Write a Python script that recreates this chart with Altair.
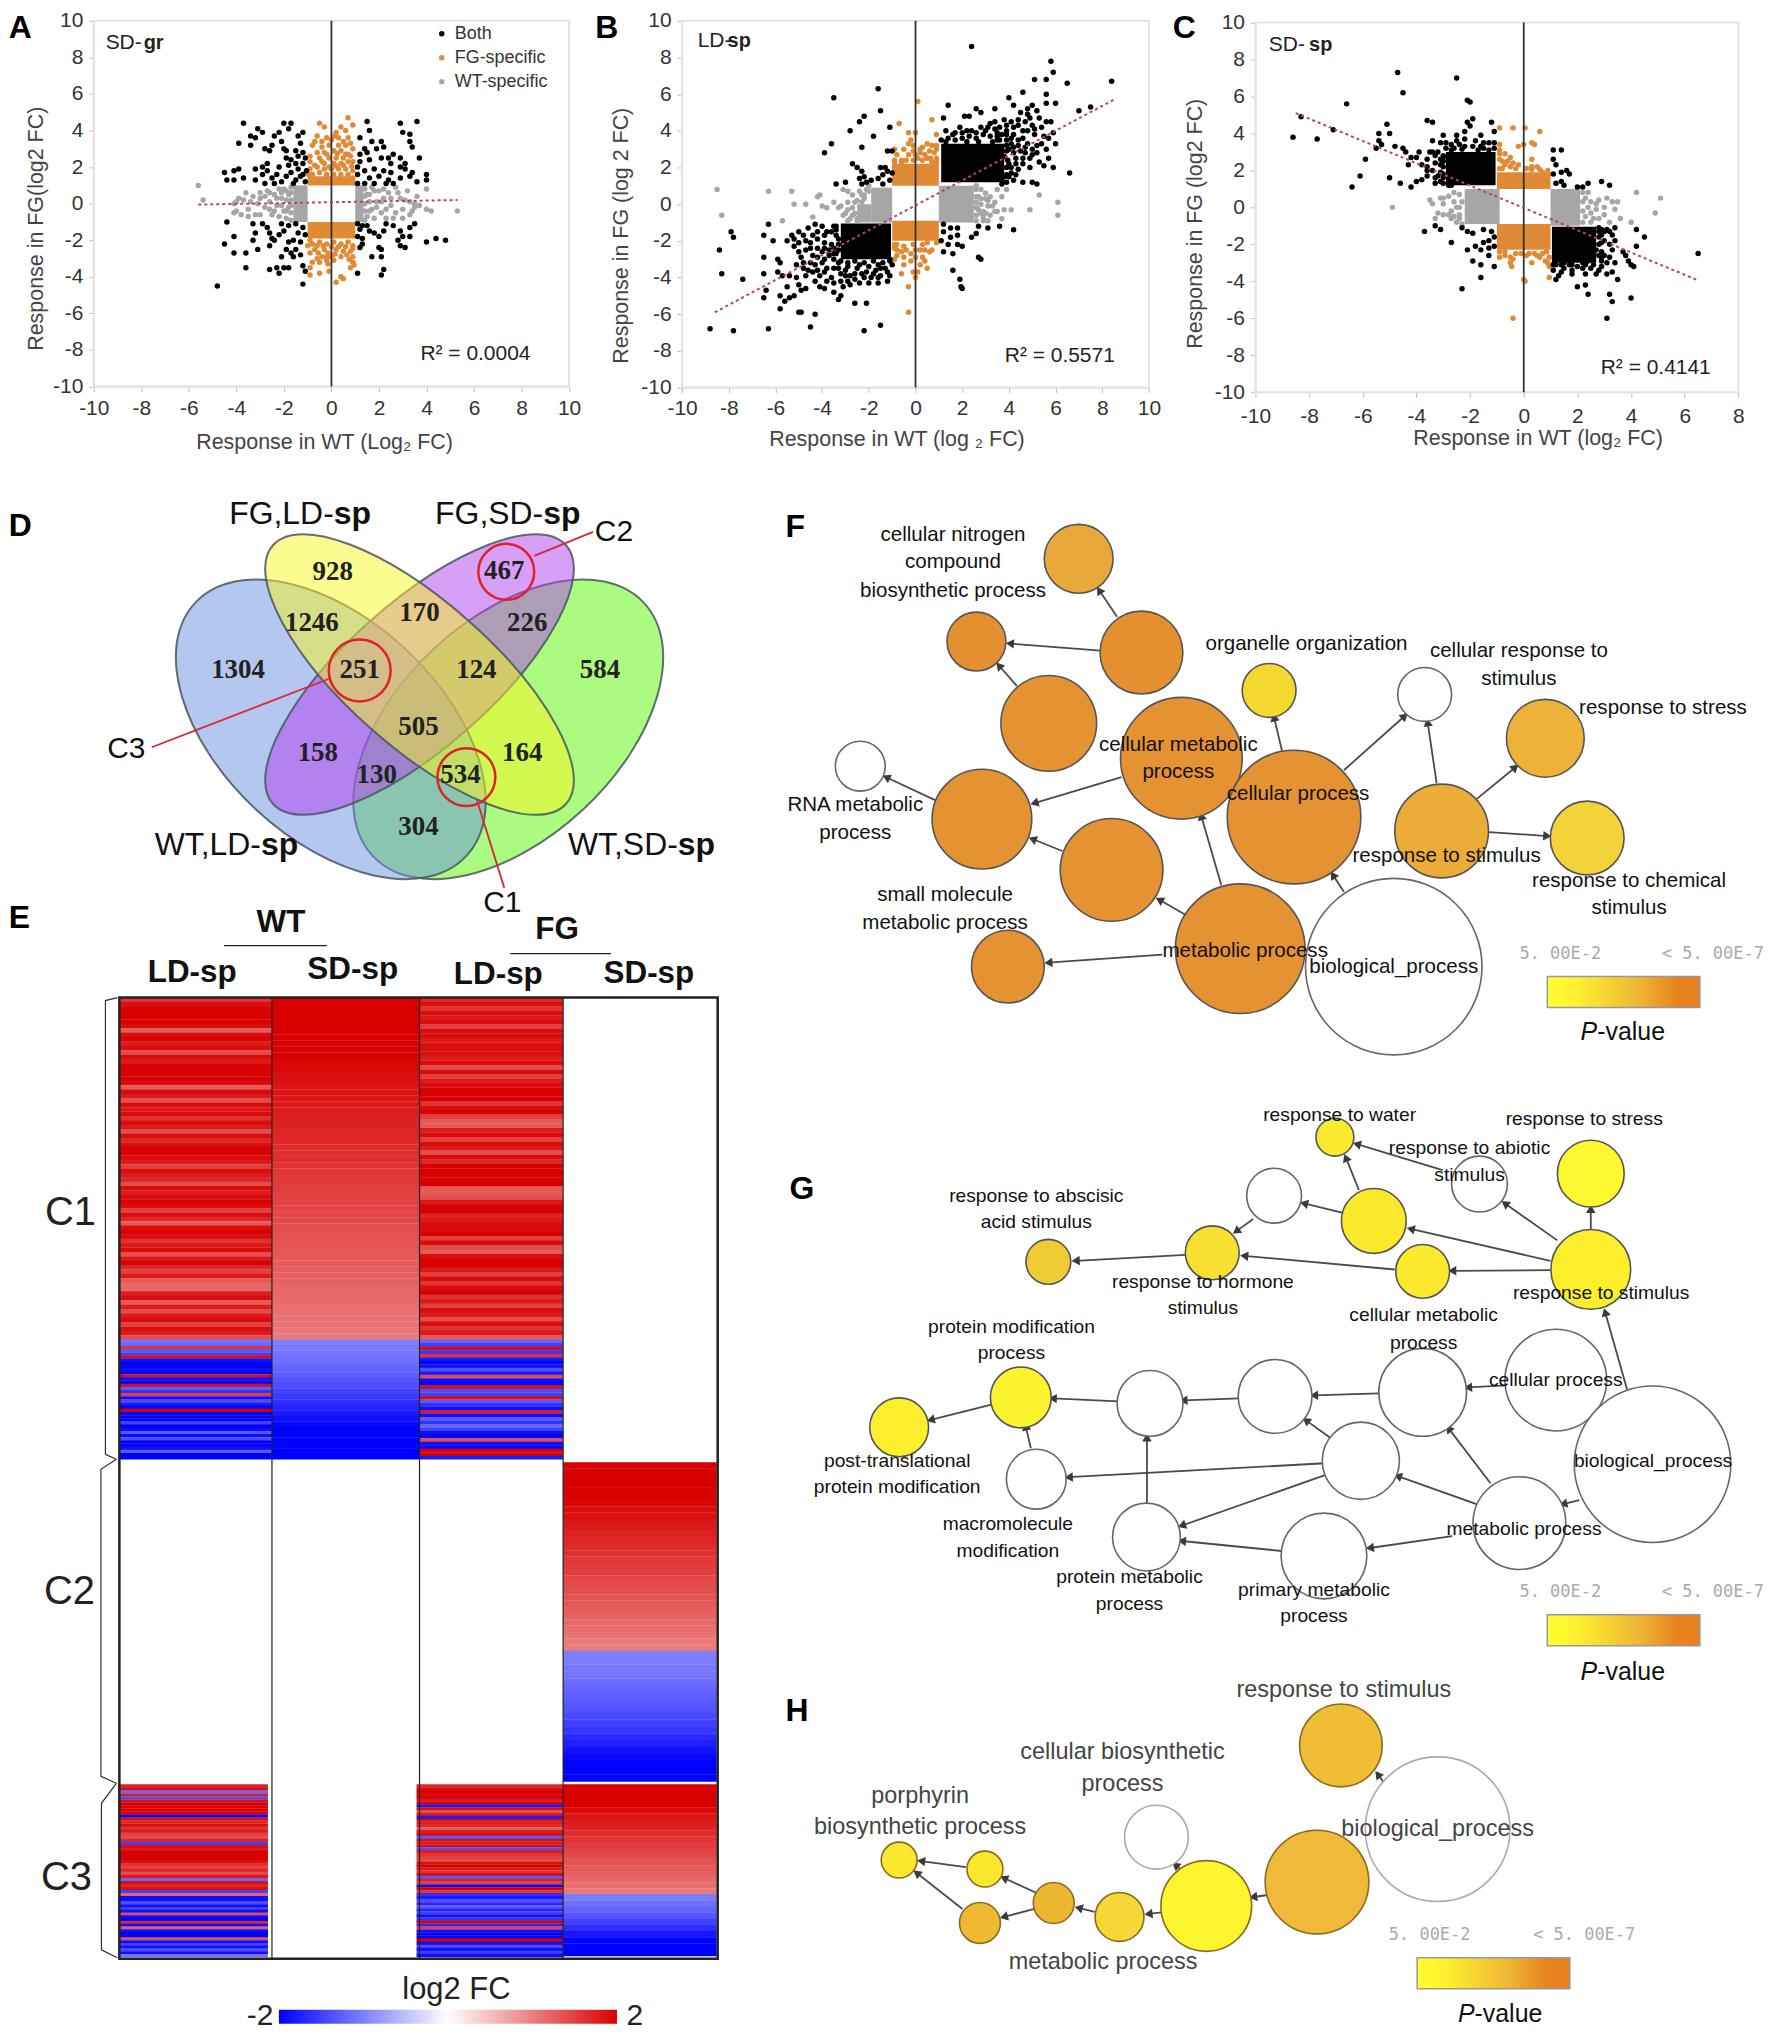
import math
import altair as alt
import pandas as pd

# ---------- panel A values ----------
A_both = [(-3.7,4.4),(-3.1,4.1),(-2.9,3.9),(-3.4,3.7),(-3.2,3.6),(-3.9,3.3),(-3.4,3.2),(-2.4,3.7),(-2.2,3.9),(-2,4.4),(-1.7,4.4),(-1.8,4.1),(-1.4,3.7),(-1.2,3.9),(-1.3,3.3),(-2.1,3.4),(-2.8,3),(-2.6,2.9),(-2.5,3.2),(-2,3),(-1.9,2.9),(-1.5,2.9),(-1.2,2.8),(-1.9,2.5),(-1.7,2.4),(-1.4,2.6),(-1.1,2.5),(-1.8,2.1),(-1.5,2.2),(-1.2,2.2),(-2.7,2.2),(-2.9,2),(-3.2,1.9),(-3.9,1.9),(-4.1,1.8),(-4.5,1.7),(-4.4,1.3),(-4.1,1.3),(-3.7,1.4),(-3.2,1.3),(-2.9,1.6),(-2.7,1.8),(-2.5,1.4),(-2.3,1.6),(-2.1,1.2),(-1.9,1.5),(-1.7,1.7),(-1.5,1.3),(-1.3,1.5),(-1.1,1.2),(-2.8,1.1),(-2.4,1.1),(-1.6,1.1),(-1.2,1.6),(-1.05,1.8),(-1.4,1.9),(-2.2,2),
(1.5,4.5),(1.6,4),(2.9,4.4),(3.6,4.5),(3,3.9),(3.3,3.8),(3.3,3.4),(3.4,3.1),(3.7,2.5),(1.2,3.6),(1.7,3.4),(2.1,3.4),(1.4,3),(1.9,3),(2.2,3.1),(1.2,2.7),(1.5,2.8),(2.6,2.7),(2.9,2.5),(2.4,2.5),(1.2,2.3),(1.6,2.4),(2.1,2.5),(2.5,2.2),(3.1,2.2),(3.1,1.9),(3.4,1.7),(2.9,2),(3.3,1.5),(4,1.6),(4,1.3),(3.6,1.2),(1.1,2),(1.4,1.8),(1.8,1.9),(2.2,1.8),(2.5,1.7),(1.1,1.6),(1.6,1.4),(2,1.5),(2.4,1.3),(2.9,1.4),(1.1,1.1),(1.4,1.1),(1.8,1.1),(2.3,1.1),(2.6,1.1),
(-4.4,-1),(-4.1,-1.8),(-4.5,-2.2),(-4.1,-2.7),(-3.6,-2.7),(-3.3,-2),(-3.2,-1.6),(-3.3,-1.1),(-2.9,-1.1),(-2.7,-1.3),(-2.6,-1.6),(-3.1,-2.5),(-3.6,-3.5),(-2.6,-3.6),(-2.3,-3.5),(-2.2,-3.8),(-2,-3.5),(-1.8,-3.5),(-1.2,-3.4),(-1.1,-3.7),(-1.2,-4.4),(-4.8,-4.5),(-2.6,-2.3),(-2.4,-2),(-2.2,-1.7),(-2,-1.5),(-1.8,-1.2),(-2.1,-1.1),(-1.5,-1.1),(-1.2,-1.3),(-1.1,-1.7),(-1.4,-1.6),(-1.6,-2),(-1.8,-2.1),(-1.3,-2.1),(-1.9,-2.5),(-1.7,-2.7),(-1.5,-2.5),(-2.1,-2.9),(-1.6,-2.9),(-1.3,-2.8),(-2.5,-1.9),
(1.1,-3.8),(2.1,-3.9),(2.2,-3.6),(1.7,-2.9),(2.1,-2.9),(2.1,-2.5),(2,-2.4),(1.2,-2.4),(1.3,-2.2),(1.3,-1.9),(1.1,-1.8),(1.2,-1.4),(1.3,-1.2),(1.6,-1.5),(1.8,-1.6),(2,-1.8),(2.2,-1.5),(2.6,-1.2),(2.9,-1.5),(3.3,-1.3),(3.5,-1.1),(3.3,-1.8),(3,-1.8),(2.8,-2),(2.9,-2.3),(3.1,-2.4),(4,-2.1),(4.4,-1.9),(4.8,-2),(1.1,-1.1),(1.5,-1.2),(2.3,-1.1)]
A_fg = [(-0.5,4.4),(-0.3,4.2),(0.2,3.9),(0.4,4.2),(0.7,4.7),(0.9,4.3),(0.6,4),(-0.6,3.7),(-0.4,3.4),(0,3.5),(0.3,3.6),(0.7,3.6),(-0.8,3.2),(-0.4,3.1),(-0.1,3.2),(0.3,3.2),(0.6,3.2),(0.9,3),(-0.6,2.8),(-0.3,2.8),(0.1,2.9),(0.4,2.9),(0.7,2.7),(-0.9,2.6),(-0.5,2.5),(-0.1,2.5),(0.2,2.5),(0.5,2.5),(0.8,2.6),(-0.3,2.2),(0.1,2.2),(0.4,2.2),(0.7,2.3),(-0.6,2),(-0.3,1.9),(0,1.9),(0.3,1.9),(0.6,1.9),(-0.8,1.6),(-0.5,1.7),(-0.2,1.6),(0.1,1.6),(0.4,1.6),(0.7,1.6),(0.9,1.4),
(-1,-2.3),(-0.8,-2.2),(-0.5,-2.1),(-0.2,-2.2),(0.1,-2.1),(0.4,-2.2),(0.7,-2.1),(-0.7,-2.5),(-0.3,-2.5),(0.2,-2.5),(0.5,-2.6),(0.8,-2.6),(-0.4,-2.9),(0,-2.9),(0.4,-2.9),(0.9,-2.9),(-0.8,-3.2),(-0.5,-3.2),(-0.2,-3.1),(0.9,-3.2),(0.8,-3.5),(-0.9,-3.5),(-0.9,-3.9),(-0.5,-3.8),(-0.1,-3.7),(0.4,-4),(0.5,-4.1),(0.2,-4.3),
(-0.9,1.9),(-0.7,2.1),(-0.4,2.3),(-0.1,2.0),(0.2,2.05),(0.5,2.1),(0.85,2.05),(-0.9,2.3),(-0.2,2.7),(0.25,2.75),(0.6,2.7),(-0.7,3.4),(-0.2,3.6),(0.15,3.7),(0.5,3.4),(0.8,3.3),(0.9,2.3),(0.9,1.8),(-0.95,1.6),
(-0.9,-2),(-0.6,-2.3),(-0.35,-2.3),(0,-2.35),(0.3,-2.35),(0.6,-2.35),(0.9,-2.3),(-0.9,-2.7),(-0.55,-2.7),(-0.15,-2.7),(0.15,-2.75),(0.65,-2.8),(0.9,-2.45),(-0.6,-3),(-0.2,-2.9),(0.75,-3.05),(0.95,-3.35),(-0.15,-3.3),(0.1,-3.1)]
A_wt = [(-5.6,1),(-5.4,0.2),(-4.1,0),(-3.9,0.3),(-3.6,0.6),(-3.4,0.1),(-4,-0.4),(-3.8,-0.6),(-3.5,-0.3),(-3.2,-0.6),(-3,0.3),(-3,0.6),(-2.8,-0.2),(-2.7,0.7),(-2.6,0.1),(-2.5,-0.6),(-2.4,0.5),(-2.3,-0.1),(-2.2,0.8),(-2.1,0.3),(-2,-0.4),(-2,0.8),(-1.9,-0.8),(-1.8,0.5),(-1.8,-0.2),(1.5,0.5),(1.7,0.9),(1.7,-0.3),(1.9,0.1),(2,0.7),(2.1,-0.5),(2.2,0.3),(2.3,-0.8),(2.4,0.6),(2.5,-0.1),(2.7,0.9),(2.7,-0.5),(2.9,0.3),(3,-0.3),(3,-0.8),(3.2,0.7),(3.3,0.1),(3.4,-0.4),(3.6,0.4),(3.7,-0.1),(4,0.8),(4.0,-0.3),(4.2,-0.4),(5.3,-0.4),(1.5,-0.7),(1.6,0.1),
(-1.7,0.9),(-1.7,0.6),(-1.7,0.2),(-1.7,-0.1),(-1.7,-0.5),(-1.7,-0.9),(-1.9,0.7),(-1.9,0.2),(-1.9,-0.4),(-2.1,-0.1),(-2.1,0.6),(-2.2,-0.7),(-2.3,0.3),(-2.4,-0.4),(-2.6,0.6),(-2.6,-0.3),(-2.8,0.4),(-3,-0.6),(-3.1,0),(-3.3,0.4),(-3.5,-0.7),(-3.7,0.2),(-4,0.1),(-4.1,-0.5),(1.4,0.8),(1.4,0.4),(1.4,0),(1.4,-0.4),(1.4,-0.9),(1.6,0.5),(1.6,-0.4),(1.8,0.7),(1.8,-0.8),(1.9,-0.2),(2.1,0.1),(2.2,0.8),(2.3,-0.3),(2.5,0.3),(2.6,-0.8),(2.8,0.6),(3.1,0.2),(3.3,-0.6),(3.5,0),(3.5,-0.2)]
A_blocks = [(-1,1,1,1.5,'#e08a35'),(-1,1,-1.9,-1,'#e08a35'),(-1.6,-1,-1,1,'#a6a6a6'),(1,1.35,-1,1,'#a6a6a6')]
A_trend = [(-5.6,-0.05),(5.3,0.2)]

# ---------- panel B values ----------
B_both = [(2.4,8.6),(5.8,7.8),(5.9,7.2),(5.1,6.8),(5.6,6.8),(6.5,6.6),(8.4,6.7),(-1.6,6.3),(-3.5,5.8),(-1.5,5.1),(5.6,6),(5.6,5.5),(6,5.5),(7,5.1),(7.5,5.3),(4.6,6.1),(4,5.8),(4.2,5.4),(1.4,5.4),(3.4,5.2),(2.6,5.2),(2.8,5),(2.3,4.8),(2.1,4.8),(1.2,4.7),(-2.2,4.8),(-2.4,4.5),(-1.1,4.2),(-2.8,4),(-1.8,3.7),(-3.6,3.3),(-2.3,3.1),(-3.9,2.8),(-1.2,2.9),(-1,2.9),(-2.7,2.2),(-2.5,2),(-2.3,1.8),(-1.5,2),(-1.3,2),(-1.2,1.8),(-1.4,1.6),(-1,1.7),(-1.6,1.4),(-1.9,1.3),(-2.2,1.5),(-2.4,1.4),(-2.1,1.2),(-2.3,1.1),(-3.4,1.1),(-3,1.2),(-1.4,1.1),(-1.1,1.3),
(4.5,5),(4.8,5.2),(5,5.4),(4.9,4.7),(5.3,4.7),(5.8,4.5),(5.9,3.9),(5.7,3.6),(6,3.3),(5.4,4.2),(5,4.3),(4.7,4.5),(4.4,4.6),(4.2,4.2),(3.9,4),(4.6,4),(5.1,3.8),(5.2,3.2),(5.6,3),(5.7,2.5),(5.9,2),(5.5,2.1),(5,2.7),(5.3,2.3),(4.7,2.8),(4.4,3.2),(4.1,3.6),(4.8,3.3),(3.4,4.5),(3.8,4.6),(3.1,4.2),(2.8,4.2),(2.4,4),(2,3.9),(1.6,3.8),(1.3,4),(4,3),(4.3,2.5),(4.6,2.2),(4.9,2),(4.4,1.9),(4,2.2),(3.8,2.6),(4.1,1.7),(3.8,1.5),(4.2,1.3),(4.6,1.2),(5,1.2),(5.2,1.1),(6.6,1.7),(3.7,1.1),(4,1.5),(4.5,2.9),(3.7,3.8),(4.1,3.3),(3.6,3.5),
(1.1,3.5),(1.4,3.6),(1.7,3.5),(2,3.6),(2.3,3.7),(2.6,3.6),(2.9,3.8),(3.2,3.7),(3.5,3.9),(3.9,3.5),(3.9,3.2),(3.9,2.9),(3.95,2.4),(3.9,2),(3.9,1.6),(1.3,3.4),(1.7,3.9),(2.2,3.4),(2.7,3.4),(3.3,3.4),(3.5,3.5),
(3.9,3.8),(4.2,3.8),(4.4,3.5),(4.6,3.6),(4.7,3.1),(5,3),(5.2,2.8),(4.9,2.5),(4.6,2.5),(4.2,2.8),(4.2,3.1),(4.3,1.6),(4.1,2),(3.9,1.2),(4.3,2.2),(3.4,4.1),(3,4),(2.6,3.9),(2.2,4),(1.9,4.2),(3.6,4.2),(3.9,4.3),(4.1,4.5),(4.4,4.3),(4.8,4),(5.1,4.1),(5.5,3.7),(5.4,3.3),(5.6,4.5),(5.2,5.1),(4.8,4.9),(3.5,3.7),(3.2,4.4),
(1.2,-1.1),(1.5,-1.3),(1.8,-1.3),(1.2,-1.5),(1.5,-1.8),(1.1,-2),(1.4,-2.2),(1.8,-2.2),(2,-2.3),(1.2,-2.6),(1.6,-2.7),(1.6,-3.6),(1.9,-4.1),(1.95,-4.5),(2,-4.6),(2.4,-1.8),(2.6,-1.6),(2.7,-1.2),(3.1,-1.3),(3.6,-1.2),(4.2,-1.4),(2.7,-2.9),(2.8,-3),(1.8,-1.7),
(-6.3,-1.1),(-6.5,-1.7),(-6.1,-2),(-5.5,-2),(-5.3,-1.7),(-5.2,-2.3),(-5,-1.5),(-4.8,-1.7),(-4.6,-1.3),(-4.3,-1.1),(-4,-1.2),(-3.8,-1.5),(-3.5,-1.2),(-3.4,-1.7),(-4.5,-2.1),(-4.2,-1.9),(-3.9,-2.1),(-3.6,-2.2),(-3.3,-2.5),(-5,-2.6),(-4.7,-2.5),(-4.4,-2.8),(-4,-2.6),(-3.7,-2.8),(-3.5,-3),(-5.9,-3),(-6.5,-2.9),(-5.8,-3.2),(-5.1,-3.3),(-4.8,-3.2),(-4.3,-3.3),(-4,-3.2),(-3.8,-3.5),(-3.5,-3.5),(-6.5,-3.8),(-5.9,-3.7),(-5.7,-3.9),(-5.4,-3.9),(-5.1,-4),(-4.7,-3.9),(-4.4,-3.7),(-4.1,-3.9),(-3.6,-4),(-3.2,-3.8),(-3,-3.6),(-2.8,-3.9),(-2.5,-3.5),(-2.3,-3.8),(-2,-3.4),(-1.7,-3.6),(-1.3,-3.5),(-1.1,-3.9),(-1.5,-3.9),(-1.9,-4),(-2,-4.3),(-1.6,-4.3),(-1.2,-4.2),(-2.4,-4.3),(-2.8,-4.4),(-3.1,-4.5),(-3.2,-4.2),(-2.6,-4.1),(-4.3,-4.2),(-3.9,-4.6),(-3.5,-4.8),(-3.2,-5),(-3.3,-5.2),(-4.7,-4.6),(-4.9,-4.7),(-5.2,-5),(-5.4,-5.1),(-5.8,-5),(-6.4,-4.7),(-6.5,-5.1),(-5.6,-5.3),(-5.8,-5.7),(-4.9,-5.9),(-5,-5.9),(-4.3,-6),(-2.6,-5.4),(-2.1,-5.4),(-6.3,-6.8),(-4.5,-6.7),(-2.2,-6.9),(-1.5,-6.6),(-8.8,-6.8),(-7.8,-6.9),(-8.3,-3.8),(-8.4,-2.5),(-7.4,-4.1),(-7.9,-1.5),(-7.8,-1.8),(-1.1,-3),(-1,-3.3),
(-3.4,-1.4),(-3.3,-1.9),(-3.3,-2.2),(-3.4,-2.7),(-3.2,-3.1),(-2.9,-3.2),(-2.6,-3.1),(-2.2,-3.2),(-1.8,-3.1),(-1.4,-3.2),(-1.1,-3.1),(-2.9,-3.4),(-2.4,-3.3),(-1.6,-3.3),
(-3.4,-1.2),(-3.6,-1.5),(-3.9,-1.7),(-4.2,-1.5),(-4.4,-1.7),(-4.7,-2),(-5,-2.1),(-5.2,-1.9),(-4.9,-2.9),(-4.5,-2.4),(-4.2,-2.4),(-3.9,-2.4),(-3.7,-2.5),(-3.5,-2.4),(-4.2,-2.9),(-3.9,-3),(-3.5,-2.7),(-3.3,-3.2),(-4.5,-3.2),(-4.8,-3.5),(-4.6,-3.6),(-4.2,-3.6),(-3.9,-3.7),(-3.3,-3.5),(-3.5,-4.3),(-2.9,-4.2),(-2.1,-3.7),(-1.8,-3.8),(-1.5,-3.5),(-1.2,-3.7),(-1.6,-4),(-2.2,-4),(-2.6,-3.8),(-3,-3.9),(-3.8,-4.2),(-4.1,-4.5),(-5,-4.4),(-5.5,-4.5)]
B_fg = [(0.1,5.6),(-0.7,4.4),(0.7,4.6),(-0.3,3.9),(0,3.9),(-0.2,3.5),(0.9,3.8),(-0.1,3.2),(0.3,3.1),(0.7,3.2),(0.9,3.2),(-0.9,3),(-0.5,3),(-0.3,2.7),(0.1,2.5),(0.4,2.7),(0.6,2.9),(0.9,2.5),(-0.9,2.4),(-0.6,2.4),(-0.9,2),(-0.6,2.3),(0.3,2.4),(0.7,2.3),(0.5,2.5),
(0.5,-2.1),(-0.9,-2.2),(-0.5,-2.3),(-0.1,-2.2),(0.3,-2.2),(0.7,-2.5),(0.9,-2.1),(-0.8,-2.5),(-0.4,-2.5),(0,-2.5),(0.4,-2.5),(-0.9,-3),(-0.5,-2.9),(0,-2.9),(0.3,-2.9),(-0.5,-3.3),(0.2,-3.3),(0.5,-3.5),(-0.6,-3.8),(-0.1,-3.7),(0,-4),(-0.3,-4.5),(-0.3,-5.9),
(-0.9,2.3),(-0.8,2.7),(-0.4,2.4),(-0.1,2.4),(0.2,2.8),(0.8,2.8),(0.9,3),(-0.1,2.9),(0.2,3),(0.5,3.3),(-0.3,3.3),(0,2.7),(0.65,2.5),(0.9,2.3),(-0.9,-2.4),(-0.6,-2.6),(-0.2,-2.7),(0.2,-2.5),(0.6,-2.6),(-0.8,-2.8),(0.4,-3.1),(-0.2,-3.1),(0.1,-3.7),(-0.8,-2.2)]
B_wt = [(-8.5,0.8),(-8.3,-0.6),(-6.3,0.7),(-5.3,0.7),(-5.2,0.0),(-4.7,0),(-5.7,-0.9),(-4.4,-0.7),(-4.2,0.4),(-4.1,0.5),(-4,-0.1),(-3.8,-0.2),(-3.5,0.1),(-3.3,-0.2),(-3,-0.5),(-3.2,-0.1),(-2.9,0.1),(-2.6,0.1),(-3.1,0.8),(-2.9,0.7),(-2.7,0.5),(-2.4,0.7),(-2.2,0.3),(-2.7,-0.6),(-2.5,-0.8),(-2.9,-0.9),(-2,0.7),(2.6,1),(2.8,0.8),(3,0.6),(3,0.3),(2.7,0.4),(2.6,0.1),(2.8,0),(3.1,-0.1),(2.7,-0.3),(2.9,-0.4),(3.3,-0.1),(3.5,0.8),(3.7,0.4),(3.9,0.8),(2.6,-0.6),(2.9,-0.7),(3.2,-0.6),(3.5,-0.4),(3.8,-0.3),(4.1,-0.3),(3.7,-0.8),(4.9,-0.3),(5.3,0.5),(6.1,0.1),(6.1,-0.6),(2.9,-0.9),
(-2.5,-0.9),(-2.6,-0.5),(-2.7,-0.2),(-2.9,-0.3),(-3.1,-0.6),(-2.8,-0.8),(-2.3,0.1),(-2.2,0.5),(-2.1,0.8),(-2,1),(-2.3,0.5),(-2.5,0.2),(2.6,0.8),(2.6,0.4),(2.6,-0.2),(2.8,0.3),(2.8,-0.5),(2.6,-0.9),(3.1,0.2),(3.2,0.4),(3,-0.5),(3.1,-0.9),(3.4,0.1),(3.4,-0.4)]
B_blocks = [(-1,1,1,2.2,'#e08a35'),(-1,1,-2,-0.9,'#e08a35'),(-1.9,-1,-1,0.9,'#a6a6a6'),(-2.5,-1.9,-1,0,'#a6a6a6'),(1,2.5,-1,1,'#a6a6a6'),(1.1,3.8,1.2,3.3,'#000000'),(-3.2,-1.05,-3,-1.05,'#000000')]
B_trend = [(-8.6,-5.9),(8.5,5.7)]

# ---------- panel C values ----------
C_both = [(-4.7,7.3),(-2.5,7),(-4.5,6.2),(-6.6,5.6),(-2.1,5.8),(-2,5.7),(-8.3,4.9),(-8.6,3.8),(-7.7,3.7),(-7.1,4.2),(-5.1,4.5),(-3.6,4.7),(-3.4,4.6),(-2.1,4.6),(-1.9,4.8),(-2,4.4),(-1.2,4.6),(-5.4,4),(-5,4),(-2.2,4.1),(-1.1,4.1),(-2.5,3.9),(-3,3.9),(-1.6,3.9),(-5.4,3.6),(-5.3,3.4),(-5.5,3.2),(-4.8,3.3),(-4.5,3.2),(-4.4,3),(-4.2,2.7),(-3.9,3),(-3.4,3.6),(-3.1,3.5),(-2.7,3.4),(-1.3,3.5),(-1.1,3.5),(-5.9,2.6),(-4,2.7),(-3.8,2.3),(-4.3,2.3),(-3.6,2),(-3.3,2.4),(-3.6,2.2),(-3.4,3),(-3.2,3),(-3,2.7),(-3.1,2.3),(-6.1,1.7),(-6.4,1.1),(-5,1.6),(-4.6,1.3),(-4.2,1.1),(-4,1.4),(-3.8,1.5),(-3.6,1.7),(-3.3,1.6),(-3.1,1.4),(-2.8,1.2),(-3,1.8),(-3,2.2),
(-3.3,-1),(-3.7,-1.3),(-3.1,-1.2),(-2.7,-1.9),(-2.3,-1.1),(-2.1,-1.3),(-1.9,-1.4),(-1.5,-1.2),(-1.2,-1.3),(-1.1,-1.6),(-1.3,-1.8),(-1.5,-1.9),(-1.3,-2.2),(-1.1,-2.1),(-2.1,-2.3),(-1.8,-2.1),(-1.6,-2.3),(-1.3,-2.6),(-1.9,-2.9),(-1.6,-3.1),(-1.1,-3.2),(-1.6,-3.8),(-2.3,-4.4),
(1.1,3.1),(1.4,3.1),(1.1,2.6),(1.2,2.3),(1.4,1.9),(1.6,2),(1.7,1.8),(1.1,1.8),(1.4,1.4),(1.2,1.3),(1.5,1.2),(2,1.1),(2.2,1.1),(2.4,1.3),(2.9,1.4),(3.2,1.2),
(2.8,-1.1),(3.1,-1.2),(3.4,-1.1),(2.9,-1.5),(3.3,-1.5),(3,-1.8),(3.4,-1.8),(3.2,-2),(2.8,-2),(2.7,-2.3),(2.4,-2.9),(2.6,-2.5),(2.2,-3),(2,-3.2),(1.7,-3.1),(1.5,-3.3),(1.2,-3.1),(2.9,-3.2),(2.8,-3.4),(3.1,-3.6),(3.2,-2.7),(3.3,-3.5),(3.5,-3.9),(3.7,-2.4),(3.8,-2.6),(3.9,-2.9),(4,-3.1),(4.1,-3.2),(4.2,-2.1),(4.2,-1.2),(4.5,-1.6),(6.5,-2.5),(1.2,-3.9),(1.3,-3.7),(2,-4.3),(2.3,-4.2),(2.4,-4.7),(3.2,-4.7),(3.3,-5.1),(4,-4.9),(3.1,-6),(1.8,-3.4),(1.4,-3.5),(2.5,-3.3),
(-2.9,3.2),(-2.6,3.2),(-2.2,3.3),(-1.9,3.3),(-1.5,3.2),(-3,2.8),(-3,2.5),(-2.7,1.2),(-3,1.3),(-2.7,3.1),(-2.3,3.15),(-1.7,3.1),(-1.3,3.1),(-1.1,3.2),(-3,1.6),(-3.1,1.9),(-3.1,2.6),
(1.1,-3.1),(1.4,-3.1),(1.8,-3.1),(2.3,-3.1),(2.6,-3.1),(2.8,-2.6),(2.8,-1.6),(2.8,-1.3),(2.9,-2.9),
(-3.3,2.8),(-3.2,1.7),(-3.3,1.3),(-2.9,3.5),(-2.5,3.6),(-2.2,3.7),(-1.8,3.6),(-1.5,3.5),(-1.6,3.3),(-2.4,3.4),(-3.5,3),(-3.6,2.6),(-3.4,2),
(2.9,-1.2),(2.9,-1.9),(2.9,-2.4),(3,-2.6),(3.1,-3),(2.9,-2.7),(2.2,-3.3),(1.8,-3.6),(2.3,-3.6),(2.7,-3.6),(1.5,-3),(1.1,-3.4),(3.2,-1.3),(3,-1.3),(3.3,-2.3),(3.4,-3)]
C_fg = [(-0.9,4.3),(-0.4,4.3),(0.05,4.3),(0.6,4.1),(-0.9,3.4),(0.3,3.5),(0.4,3.4),(-0.2,3.3),(0,3.4),(-0.9,3.1),(-0.7,2.9),(-0.5,2.7),(-0.9,2.6),(-0.4,2.4),(-0.2,2.3),(-0.7,2.3),(0.3,2.6),(0.5,2.2),(0.3,2.2),(0.7,1.9),(0.1,2.1),(-0.9,2.1),
(-0.9,-2.4),(-0.7,-2.6),(-0.5,-2.7),(-0.5,-3),(-0.3,-2.5),(0.1,-2.6),(0.4,-2.5),(0.6,-2.7),(0.8,-2.9),(0.95,-3.2),(0.3,-3),(-0.45,-3.2),(0,-3.9),(0.05,-4),(0.95,-3.8),(-0.4,-6),
(-0.9,2.9),(-0.8,2.5),(-0.5,2.2),(-0.8,2.1),(-0.6,2.5),(-0.3,2.1),(0.3,2.05),(0.6,2.05),(0.9,2),(-0.9,-2.7),(-0.7,-2.4),(-0.4,-2.8),(-0.1,-2.5),(0.2,-2.5),(0.5,-2.6),(0.7,-2.5),(0.95,-2.7),(0.85,-2.4),(0.9,-3)]
C_wt = [(-4.9,0),(-3.5,0.4),(-3.4,0.2),(-3.1,0.5),(-3,0.2),(-2.8,0.6),(-2.6,0.8),(-3.2,-0.3),(-3.3,-0.6),(-3,-0.4),(-2.7,-0.2),(-2.5,0),(-2.7,-0.6),(-2.4,-0.4),(-2.5,-0.8),(2.3,-0.5),(2.4,0),(2.3,0.5),(2.5,-0.8),(2.7,0.2),(2.7,-0.1),(2.8,0.4),(2.8,-0.6),(3,0),(3,-0.4),(3.1,0.5),(3.3,0.3),(3.4,-0.1),(3.2,-0.8),(3.5,0.3),(4,-0.8),(4.2,0.8),(4.9,-0.3),(5.1,0.5),(3.6,-0.6),
(-2.4,0.7),(-2.3,0.3),(-2.4,0),(-2.4,-0.6),(-2.3,-0.9),(-2.6,0.3),(-2.8,-0.4),(-3,0.5),(-2.6,-0.5),(2.2,0.8),(2.2,0.3),(2.2,-0.2),(2.2,-0.8),(2.5,0.3),(2.5,-0.3),(2.4,0.8),(2.6,-0.6)]
C_blocks = [(-1,1,1,1.9,'#e08a35'),(-1,1,-2.3,-0.9,'#e08a35'),(-2.2,-0.9,-0.9,1,'#a6a6a6'),(1,2.1,-1,1,'#a6a6a6'),(-2.9,-1.05,1.2,3,'#000000'),(1.05,2.7,-3,-1.05,'#000000')]
C_trend = [(-8.5,5.1),(6.5,-3.95)]

# ---------- panel D values ----------
venn_counts = [(333,571,'928'),(505,570,'467'),(312,622,'1246'),(420,612,'170'),(528,622,'226'),(238,670,'1304'),(360,670,'251'),(477,670,'124'),(601,670,'584'),(419,727,'505'),(318,753,'158'),(523,753,'164'),(377,775,'130'),(461,775,'534'),(419,827,'304')]
venn_sets = [(509,729,186,110,47,'#55f800'),(331,729,186,110,313,'#6a90e0'),(420,674,196,73,48.6,'#b040ee'),(420,674,196,73,311.4,'#f8f820')]
venn_rings = [(507,571,28),(360,670,31),(467,777,29)]
venn_leaders = [(535,555,594,531),(330,678,151.5,747),(477.5,800,505,888)]
venn_plain = [(334,513,'FG,LD-'),(544,513,'FG,SD-'),(261,845,'WT,LD-'),(679,845,'WT,SD-')]
venn_bold = [(334,513,'sp'),(544,513,'sp'),(261,845,'sp'),(679,845,'sp')]
venn_callouts = [(615,531,'C2'),(126,749,'C3'),(503,903,'C1')]

# ---------- panel E values ----------
wt_ld_c1 = [1.6,1.9,2,2,2,2,1.9,1.3,1.9,2,1.8,1.9,1.4,1.9,1.8,2,2,2,2,1.9,1.3,1.9,1.8,1.4,1.9,1.8,1.9,1.6,1.9,1.8,1.4,1.9,1.7,1.9,2,2,1.9,1.8,1.5,1.9,1.8,1.7,1.4,1.9,1.8,1.9,2,1.9,1.5,1.9,1.7,1.3,1.9,2,1.9,1.6,1.8,1.9,1.4,1.8,2,1.7,1.5,1.8,1.3,1.2,1.2,1.8,1.9,1.3,1.8,1.4,1.8,1.9,1.5,1.9,1.8,1.4,
-1.1,-1.2,1.6,-1.3,-1.5,1.9,-1.9,-2,-2,-1.9,-2,1.9,-1.9,-2,1.9,-1.3,-1.6,1.5,-1.9,-1.4,-1.8,-2,2,-2,-2,-2,-1.5,-2,-1.9,-1.3,-1.9,-1.4,-2,-2,-1.9,-1.3,-2,-2]
wt_sd_c1 = [2,2,2,2,2,2,2,2,2,2,1.95,1.93,1.9,1.88,1.85,1.84,1.82,1.8,1.78,1.76,1.74,1.72,1.7,1.68,1.66,1.64,1.62,1.6,1.58,1.56,1.54,1.52,1.5,1.48,1.46,1.44,1.42,1.4,1.38,1.36,1.34,1.32,1.3,1.28,1.26,1.24,1.22,1.2,1.18,1.16,1.14,1.12,1.1,1.08,1.06,1.04,
-1,-1.04,-1.08,-1.12,-1.16,-1.22,-1.28,-1.34,-1.4,-1.48,-1.56,-1.64,-1.72,-1.8,-1.88,-1.94,-2,-2,-2,-2,-2,-2]
fg_ld_c1 = [1.7,1.9,1.6,1.9,1.8,1.9,1.5,1.9,1.9,1.8,1.9,1.9,1.9,1.8,1.9,1.4,1.9,1.5,1.8,1.9,2,2,2,1.6,1.9,2,1.5,1.3,1.3,1.8,1.9,1.5,1.9,1.8,1.4,1.9,1.7,2,2,2,2,2,1.3,1.3,1.4,1.8,2,2,1.7,1.8,1.9,1.9,2,1.5,1.9,1.4,1.3,1.9,2,2,1.8,1.5,1.9,1.6,1.9,2,1.6,1.8,1.5,1.9,1.8,1.4,1.9,1.6,1.8,1.3,
-1.2,-1.5,1.9,-1.6,1.6,-1.8,-2,-1.9,-1.4,-1.8,1.4,-1.9,-2,1.9,-1.4,-1.5,1.9,-1.3,-1.6,-1.9,1.8,-1.9,-1.3,-1.6,-1.2,-1.5,-1.9,-2,1.4,-1.9,-2,2,2,-1.8]
fg_sd_c2 = [2,2,2,2,2,2,1.95,1.9,1.86,1.82,1.78,1.74,1.7,1.66,1.62,1.58,1.54,1.5,1.46,1.42,1.38,1.34,1.3,1.26,1.22,1.18,1.14,1.1,1.06,1.03,
-1,-1.03,-1.07,-1.1,-1.15,-1.2,-1.25,-1.3,-1.36,-1.42,-1.5,-1.58,-1.66,-1.76,-1.86,-1.94,-2,-2,-2]
wt_ld_c3 = [1.7,1.9,-1.2,1.8,-1.4,1.9,2,2,2,2,-2,1.9,1.7,1.9,1.6,1.8,1.5,1.4,1.7,-1.5,1.9,1.8,2,2,2,1.9,1.6,1.5,1.7,1.4,1.8,-1.2,1.9,1.7,1.9,-1.5,1.2,-1.9,-1.9,-1.4,-1.9,-1.5,-1.9,1.4,-1.9,-2,1.7,-1.9,1.3,-1.9,-2,-2,1.4,-1.9,-1.5,-1.9,-1.4,-1.9,-1.1]
fg_ld_c3 = [1.7,1.9,2,1.9,2,1.8,2,-1.8,1.9,1.4,1.8,-1.8,1.9,1.8,1.7,1.3,1.8,1.9,-1.3,1.9,1.8,1.9,-1.4,1.8,1.6,1.5,1.4,1.9,2,1.8,1.6,1.9,-1.3,1.8,1.5,-2,2,1.6,-1.6,-1.8,-1.4,-1.7,-1.3,-1.7,-1.5,-1.9,-1.6,2,-1.7,1.5,-1.9,-2,-2,2,-1.9,-1.4,-1.9,-1.5,-1.9]
fg_sd_c3 = [2,2,2,2,1.92,1.84,1.78,1.72,1.66,1.6,1.54,1.48,1.42,1.36,1.3,1.24,1.18,1.12,1.06,
-1.03,-1.12,-1.22,-1.34,-1.48,-1.64,-1.82,-2,-2,-2]
heat_labels = [(192,973,'LD-sp'),(353,970,'SD-sp'),(499,975,'LD-sp'),(650,974,'SD-sp'),(281,923,'WT'),(558,930,'FG')]
heat_seps = [(272,998,272,1962),(420,998,420,1962),(564,998,564,1962),(224,946,327,946),(511,954,612,954)]
clusters = [(70,1214,'C1'),(69,1594,'C2'),(66,1881,'C3')]
braces = [[(117,998),(105,1001),(105,1456),(116,1461)],[(116,1461),(100.5,1471),(100.5,1779),(116,1786)],[(116,1786),(101,1806),(101,1953),(117,1961)]]

# ---------- panel F values ----------
F_nodes = [(1081,558,34.5,'#e9a93a'),(978.5,641,29.5,'#e49030'),(1144,652,41.5,'#e49030'),(1051,723,48,'#e59233'),(1184,758,61,'#e59233'),(1272,690,27,'#f5d930'),(1428,694,27,'#ffffff'),(1549,738,39,'#ecb23a'),(1297,817,67,'#e59233'),(1445,831,47,'#ebad38'),(1591,838,37,'#f3d33a'),(862,766,25,'#ffffff'),(984,819,50,'#e59233'),(1114,870,51.5,'#e59233'),(1243,949,65,'#e59233'),(1010,967,36.5,'#e59233'),(1397,967,88.5,'#ffffff')]
F_edges = [(1119.5,616,1101.6,589.6),(1103,650,1012,643),(1019,685.5,1001,665),(1124,777,1036.6,803),(937,800,888,777),(1064.6,851,1034.7,839),(1188,915,1162,900),(1224,885,1204,816),(1165,955,1050.6,963),(1285,751,1277,717),(1347,770,1408,715.6),(1440,783,1431,722),(1480,799,1519,767),(1492.6,832,1551,836),(1347,892,1336,875)]
F_labels = [(955,534,'cellular nitrogen'),(955,561,'compound'),(955,590,'biosynthetic process'),(1309.5,643,'organelle organization'),(1522.5,650.5,'cellular response to'),(1522.5,679,'stimulus'),(1667,708,'response to stress'),(1181,744.5,'cellular metabolic'),(1181,772,'process'),(857,805,'RNA metabolic'),(857,833,'process'),(1301,794,'cellular process'),(1450,856,'response to stimulus'),(1633,881,'response to chemical'),(1633,908,'stimulus'),(947,895,'small molecule'),(947,923,'metabolic process'),(1248,951.6,'metabolic process'),(1397,967,'biological_process')]

# ---------- panel G values ----------
G_nodes = [(1338,1138,19,'#f8ea2c'),(1483,1185,28,'#ffffff'),(1594.6,1174.6,33.5,'#fdf830'),(1277,1196.7,27.5,'#ffffff'),(1377,1222,32.5,'#fbe92e'),(1215,1254,27,'#f7e030'),(1050.6,1263,22.5,'#efcb34'),(1426,1272.6,27,'#fbe92e'),(1594.6,1270.6,40,'#fbef2c'),(1559.5,1381.6,51,'#ffffff'),(1426,1394,44,'#ffffff'),(1278,1398,37,'#ffffff'),(1152.6,1405,33,'#ffffff'),(1023,1399,30.5,'#fdf430'),(901,1429,29.5,'#fbef2e'),(1364,1462.5,38.7,'#ffffff'),(1038.5,1481,30,'#ffffff'),(1656.5,1466,78.5,'#ffffff'),(1523,1525,46.5,'#ffffff'),(1327,1558,43,'#ffffff'),(1149,1539,34,'#ffffff')]
G_edges = [(1561,1241.5,1508.5,1204.5),(1594.6,1231,1594.6,1210),(1554,1262,1414,1230),(1554,1271.4,1455.6,1272),(1398,1270.7,1247,1257),(1188,1256,1078,1262),(1362,1191,1349,1158.6),(1346,1214,1307,1204.5),(1256,1220,1239,1232.5),(1446,1171,1360,1145),(1631,1391,1609,1313.5),(1510,1387,1471.5,1389),(1382,1395,1317,1397),(1242,1400,1186,1402),(1121,1403,1055,1400),(994.5,1406,932.6,1421.6),(1494,1485,1452,1430),(1480,1506,1401,1478),(1334,1440,1309,1422),(1328,1465,1071,1479),(1328,1477,1184.5,1527.5),(1149.5,1506,1149.5,1439),(1033,1450,1028,1428),(1285,1553,1184.5,1543),(1455.6,1538,1373,1550),(1583,1502,1567,1506)]
G_labels = [(1342.7,1116,'response to water'),(1588,1120,'response to stress'),(1473,1149,'response to abiotic'),(1473,1176,'stimulus'),(1038.5,1197,'response to abscisic'),(1038.5,1223,'acid stimulus'),(1205.6,1283.5,'response to hormone'),(1205.6,1309.6,'stimulus'),(1605,1294,'response to stimulus'),(1427,1316.6,'cellular metabolic'),(1427,1344,'process'),(1013.6,1328,'protein modification'),(1013.6,1354.7,'process'),(1559.5,1381.6,'cellular process'),(899,1463,'post-translational'),(899,1489,'protein modification'),(1657,1463,'biological_process'),(1010,1526,'macromolecule'),(1010,1553,'modification'),(1527.6,1531,'metabolic process'),(1132,1579,'protein metabolic'),(1132,1606,'process'),(1317,1592,'primary metabolic'),(1317,1618.5,'process')]

# ---------- panel H values ----------
H_nodes = [(1344,1748,41.5,'#efbe35'),(1441,1832,72.5,'#ffffff'),(1320,1885,52,'#efb93a'),(1159,1840,32,'#ffffff'),(1209,1909,45.5,'#fdf62f'),(1122,1920,24.5,'#f5d835'),(1056,1906,20.5,'#eeb732'),(987,1872,18,'#f9e82e'),(901,1863,18,'#f9e82e'),(982,1926,20.5,'#efba32')]
H_edges = [(1387,1785,1381,1777),(1271,1898,1256,1900),(1169,1915,1151,1917),(1097,1915,1081,1911),(1041,1897,1006,1881),(1036.6,1912,1006,1920),(968,1870,923,1864),(964.5,1912,918.6,1876),(1184.5,1873,1178,1868)]
H_labels = [(1347,1692,'response to stimulus'),(1125,1755,'cellular biosynthetic'),(1125,1787,'process'),(922,1799,'porphyrin'),(922,1830,'biosynthetic process'),(1441,1832,'biological_process'),(1105.5,1965,'metabolic process')]

# P-value colour keys: bar box, low label, high label, P-value text
pkeys = [((1551,1704,977,1008),(1564,954),(1717,954),(1601,1033)),
         ((1551,1704,1617,1648),(1564,1594),(1717,1594),(1601,1674)),
         ((1420.5,1573.6,1961,1992),(1433,1938),(1588,1938),(1478,2017))]
letters = [(8,525,'D'),(8,918,'E'),(787,526,'F'),(791,1190,'G'),(787,1713,'H')]

SANS = 'Liberation Sans'
SERIF = 'Liberation Serif'

# ---------- scatter panels ----------
GROUPS = ['Both', 'FG-specific', 'WT-specific']
GROUP_COLORS = ['#000000', '#e08a35', '#a6a6a6']

def scatter(both, fg, wt, blocks, trend, xdom, xrng, width, yrng, height, xticks, xtitle, ytitle,
            title_x, title_y, plain, bold, name_x, name_split, name_y, r2, r2_x, r2_y,
            letter, letter_x, letter_y, lab_pad, tpad_x, tpad_y, legend=None):
    x = alt.X('x:Q', scale=alt.Scale(domain=xdom, range=xrng, nice=False, zero=False),
              axis=alt.Axis(values=xticks, title=xtitle, grid=False, titleX=title_x, titleFontWeight='normal',
                            titleFontSize=21.5, titleColor='#444444', labelFontSize=21, labelColor='#333333',
                            domainColor='#d9d9d9', tickColor='#bbbbbb', tickSize=5, labelPadding=lab_pad, titlePadding=tpad_x,
                            labelFlush=False, labelOverlap=False, labelExpr='toString(datum.value)'))
    y = alt.Y('y:Q', scale=alt.Scale(domain=[-10, 10], range=yrng, nice=False, zero=False),
              axis=alt.Axis(values=list(range(-10, 11, 2)), title=ytitle, grid=False, titleY=title_y, titleFontWeight='normal',
                            titleFontSize=21.5, titleColor='#444444', labelFontSize=21, labelColor='#333333',
                            domainColor='#d9d9d9', tickColor='#bbbbbb', tickSize=5, labelPadding=6, titlePadding=tpad_y,
                            labelFlush=False, labelOverlap=False, labelExpr='toString(datum.value)'))
    frame = alt.Chart(pd.DataFrame([dict(x=xdom[0], x2=xdom[1], y=-10, y2=10)])).mark_rect(
        fillOpacity=0, stroke='#e2e2e2', strokeWidth=2).encode(x=x, x2='x2:Q', y=y, y2='y2:Q')
    rows = [dict(x=a, y=b, group='WT-specific') for a, b in wt]
    rows += [dict(x=a, y=b, group='FG-specific') for a, b in fg]
    rows += [dict(x=a, y=b, group='Both') for a, b in both]
    pts = alt.Chart(pd.DataFrame(rows)).mark_circle(size=30, opacity=1).encode(
        x=x, y=y,
        color=alt.Color('group:N', sort=GROUPS, scale=alt.Scale(domain=GROUPS, range=GROUP_COLORS), legend=legend))
    block = alt.Chart(pd.DataFrame([dict(x=a, x2=b, y=c, y2=d, c=e) for a, b, c, d, e in blocks])).mark_rect().encode(
        x=x, x2='x2:Q', y=y, y2='y2:Q', fill=alt.Fill('c:N', scale=None))
    zero = alt.Chart(pd.DataFrame([dict(x=0, y=-10, y2=10)])).mark_rule(color='#333333', strokeWidth=1.8).encode(x=x, y=y, y2='y2:Q')
    line = alt.Chart(pd.DataFrame([dict(x=a, y=b) for a, b in trend])).mark_line(
        color='#b4466e', strokeWidth=2, strokeDash=[3, 3]).encode(x=x, y=y)
    def note(xv, yv, txt, align, weight='normal', size=21):
        return alt.Chart(pd.DataFrame([dict(x=xv, y=yv, t=txt)])).mark_text(
            align=align, baseline='middle', font=SANS, fontSize=size, fontWeight=weight, color='#222222').encode(x=x, y=y, text='t:N')
    tag = alt.Chart(pd.DataFrame([dict(t=letter)])).mark_text(
        align='left', baseline='middle', font=SANS, fontSize=32, fontWeight='bold', color='#000000').encode(
        x=alt.value(letter_x), y=alt.value(letter_y), text='t:N')
    layers = [frame, block, pts, zero, line, note(name_x, name_y, plain, 'left'), note(name_split, name_y, bold, 'left', 'bold', 20),
              note(r2_x, r2_y, r2, 'center', size=21), tag]
    return alt.layer(*layers).properties(width=width, height=height)

legend_a = alt.Legend(orient='none', legendX=340, legendY=4, title=None, labelFontSize=18, labelColor='#333333',
                      symbolSize=30, symbolType='circle', rowPadding=6, labelFont=SANS)
pA = scatter(A_both, A_fg, A_wt, A_blocks, A_trend, [-10, 10], [0, 476.7], 570, [366.7, 0], 366.7,
             list(range(-10, 11, 2)), 'Response in WT (Log₂ FC)', 'Response in FG(log2 FC)', 231, 208,
             'SD-', 'gr', -9.5, -7.9, 8.8, 'R² = 0.0004', 6.06, -8.25, 'A', -85.3, 7, 6, 13, 5, legend_a)
pB = scatter(B_both, B_fg, B_wt, B_blocks, B_trend, [-10, 10], [0, 468.2], 554.4, [367.7, 0], 367.7,
             list(range(-10, 11, 2)), 'Response in WT (log ₂ FC)', 'Response in FG (log 2 FC)', 215, 215,
             'LD-', 'sp', -9.33, -8.05, 8.9, 'R² = 0.5571', 6.18, -8.26, 'B', -87, 7, 5, 9.8, 8)
pC = scatter(C_both, C_fg, C_wt, C_blocks, C_trend, [-10, 8], [0, 484.3], 484.3, [372.4, 1.7], 372.4,
             list(range(-10, 9, 2)), 'Response in WT (log₂ FC)', 'Response in FG (log2 FC)', 283, 203,
             'SD-', 'sp', -9.5, -8.0, 8.77, 'R² = 0.4141', 4.92, -8.7, 'C', -83, 7, 8, 1.4, 8)
top = alt.hconcat(pA, pB, pC, spacing=20, bounds='flush')

# ---------- lower part: panels D to H share one plane ----------
Y0 = 440
Y1 = 2030
X = alt.X('x:Q', scale=alt.Scale(domain=[93.3, 1764], nice=False, zero=False), axis=None)
Y = alt.Y('y:Q', scale=alt.Scale(domain=[Y0, Y1], reverse=True, nice=False, zero=False), axis=None)

def text_layer(rows, size, font=SANS, weight='normal', color='#111111', align='center', style='normal'):
    df = pd.DataFrame([dict(x=a, y=b, t=c) for a, b, c in rows])
    return alt.Chart(df).mark_text(align=align, baseline='middle', font=font, fontSize=size, fontWeight=weight,
                                   color=color, fontStyle=style).encode(x=X, y=Y, text='t:N')

def segs(rows, color, width):
    df = pd.DataFrame([dict(x=a, y=b, x2=c, y2=d) for a, b, c, d in rows])
    return alt.Chart(df).mark_rule(color=color, strokeWidth=width).encode(x=X, y=Y, x2='x2:Q', y2='y2:Q')

def network(nodes, edges, labels, size, stroke, txt='#111111', white_stroke='#666666'):
    df = pd.DataFrame([dict(x=a, y=b, s=4 * r * r, fill=c, line=(white_stroke if c == '#ffffff' else stroke)) for a, b, r, c in nodes])
    node = alt.Chart(df).mark_point(shape='circle', filled=True, opacity=1, strokeWidth=1.6).encode(
        x=X, y=Y, size=alt.Size('s:Q', scale=None), fill=alt.Fill('fill:N', scale=None), stroke=alt.Stroke('line:N', scale=None))
    heads = pd.DataFrame([dict(x=c, y=d, a=(math.degrees(math.atan2(c - a, b - d)) + 360) % 360) for a, b, c, d in edges])
    arrow = alt.Chart(heads).mark_point(shape='triangle-up', filled=True, opacity=1, size=90, color='#3a3a3a').encode(
        x=X, y=Y, angle=alt.Angle('a:Q', scale=None))
    return [segs(edges, '#4a4a4a', 1.8), arrow, node, text_layer(labels, size, color=txt)]

PSTOPS = [dict(offset=0, color='#ffff30'), dict(offset=0.18, color='#fff22f'), dict(offset=0.6, color='#efb635'), dict(offset=0.85, color='#e7831f'), dict(offset=1, color='#e7801d')]
HSTOPS = [dict(offset=0, color='#0000ff'), dict(offset=0.5, color='#ffffff'), dict(offset=1, color='#d80000')]

def colour_bar(box, stops, stroke=None):
    a, b, c, d = box
    kw = dict(stroke=stroke, strokeWidth=1.5) if stroke else {}
    return alt.Chart(pd.DataFrame([dict(x=a, x2=b, y=c, y2=d)])).mark_rect(
        fill=alt.LinearGradient(gradient='linear', stops=[alt.GradientStop(**s) for s in stops], x1=0, x2=1, y1=0, y2=0), **kw
    ).encode(x=X, x2='x2:Q', y=Y, y2='y2:Q')

layers = []
# Venn sets
for cx, cy, a, b, ang, col in venn_sets:
    path = f'M0,-1 A{b / a:.4f},1 0 1,1 0,1 A{b / a:.4f},1 0 1,1 0,-1 Z'
    layers.append(alt.Chart(pd.DataFrame([dict(x=cx, y=cy, a=ang)])).mark_point(
        shape=path, filled=True, size=(2 * a) ** 2, fill=col, fillOpacity=0.5, stroke='#4a5560', strokeWidth=2, strokeOpacity=0.85, opacity=1
    ).encode(x=X, y=Y, angle=alt.Angle('a:Q', scale=None)))
layers.append(alt.Chart(pd.DataFrame([dict(x=a, y=b, s=4 * r * r) for a, b, r in venn_rings])).mark_point(
    shape='circle', filled=False, stroke='#e0202c', strokeWidth=2.5, opacity=1).encode(x=X, y=Y, size=alt.Size('s:Q', scale=None)))
layers.append(segs(venn_leaders, '#d8283a', 1.8))
layers.append(text_layer(venn_counts, 27, font=SERIF, weight='bold', color='#222222'))
layers.append(text_layer(venn_plain, 32, align='right'))
layers.append(text_layer(venn_bold, 32, weight='bold', align='left'))
layers.append(text_layer(venn_callouts, 30))

# Heat map: the first n_up rows fill y0..ym, the others ym..y1
def column(x0, x1, y0, ym, y1, values, n_up):
    rows = []
    h = (ym - y0) / n_up
    for i, v in enumerate(values[:n_up]):
        rows.append(dict(x=x0, x2=x1, y=y0 + i * h, y2=y0 + (i + 1) * h + 0.3, v=v))
    h = (y1 - ym) / (len(values) - n_up)
    for i, v in enumerate(values[n_up:]):
        rows.append(dict(x=x0, x2=x1, y=ym + i * h, y2=ym + (i + 1) * h + 0.3, v=v))
    return rows

heat_rows = (column(119, 273, 998, 1341, 1461, wt_ld_c1, 78) + column(272, 420, 998, 1341, 1461, wt_sd_c1, 56) + column(420, 564, 998, 1341, 1461, fg_ld_c1, 76)
             + column(564, 718, 1464, 1653, 1784, fg_sd_c2, 30)
             + column(118, 268, 1787, 1899, 1960, wt_ld_c3, 37) + column(417, 564, 1787, 1896, 1960, fg_ld_c3, 38) + column(564, 718, 1787, 1897, 1959, fg_sd_c3, 19))
layers.append(alt.Chart(pd.DataFrame(heat_rows)).mark_rect().encode(
    x=X, x2='x2:Q', y=Y, y2='y2:Q',
    fill=alt.Fill('v:Q', scale=alt.Scale(domain=[-2, 0, 2], range=['#0000ff', '#ffffff', '#d80000'], interpolate='rgb'), legend=None)))
layers.append(alt.Chart(pd.DataFrame([dict(x=119, x2=719, y=998, y2=1962)])).mark_rect(
    fillOpacity=0, stroke='#222222', strokeWidth=2.5).encode(x=X, x2='x2:Q', y=Y, y2='y2:Q'))
layers.append(segs(heat_seps, '#222222', 1.2))
brace_rows = [dict(x=px, y=py, b=i, o=j) for i, br in enumerate(braces) for j, (px, py) in enumerate(br)]
layers.append(alt.Chart(pd.DataFrame(brace_rows)).mark_line(color='#333333', strokeWidth=1.2).encode(
    x=X, y=Y, detail='b:N', order='o:Q'))
layers.append(text_layer(heat_labels, 31.5, weight='bold'))
layers.append(text_layer(clusters, 40, color='#222222'))
layers.append(text_layer([(457, 1993, 'log2 FC')], 31, color='#222222'))
layers.append(text_layer([(260, 2019, '-2'), (636, 2019, '2')], 30, color='#222222'))
layers.append(colour_bar((279, 618, 2013, 2027), HSTOPS))

# Networks
layers += network(F_nodes, F_edges, F_labels, 20.6, '#555555')
layers += network(G_nodes, G_edges, G_labels, 19.3, '#555555')
layers += network(H_nodes, H_edges, H_labels, 23.5, '#8a6a20', txt='#444444', white_stroke='#aaaaaa')
for box, lo, hi, pv in pkeys:
    layers.append(colour_bar(box, PSTOPS, '#999999'))
    layers.append(text_layer([(lo[0], lo[1], '5. 00E-2'), (hi[0], hi[1], '< 5. 00E-7')], 17, font='DejaVu Sans Mono', color='#aaaaaa'))
    layers.append(text_layer([(pv[0], pv[1], 'P')], 25, style='italic', align='right'))
    layers.append(text_layer([(pv[0], pv[1], '-value')], 25, align='left'))
layers.append(text_layer(letters, 32, weight='bold', color='#000000', align='left'))

bottom = alt.layer(*layers).properties(width=1764 - 93.3, height=Y1 - Y0).resolve_scale(fill='independent', stroke='independent')

chart = alt.vconcat(top, bottom, spacing=421.5, bounds='flush').properties(
    padding={'left': 0, 'top': -1, 'right': 0, 'bottom': -4}).configure_view(stroke=None)
chart.save("out.html", embed_options={"renderer": "svg", "actions": False})
